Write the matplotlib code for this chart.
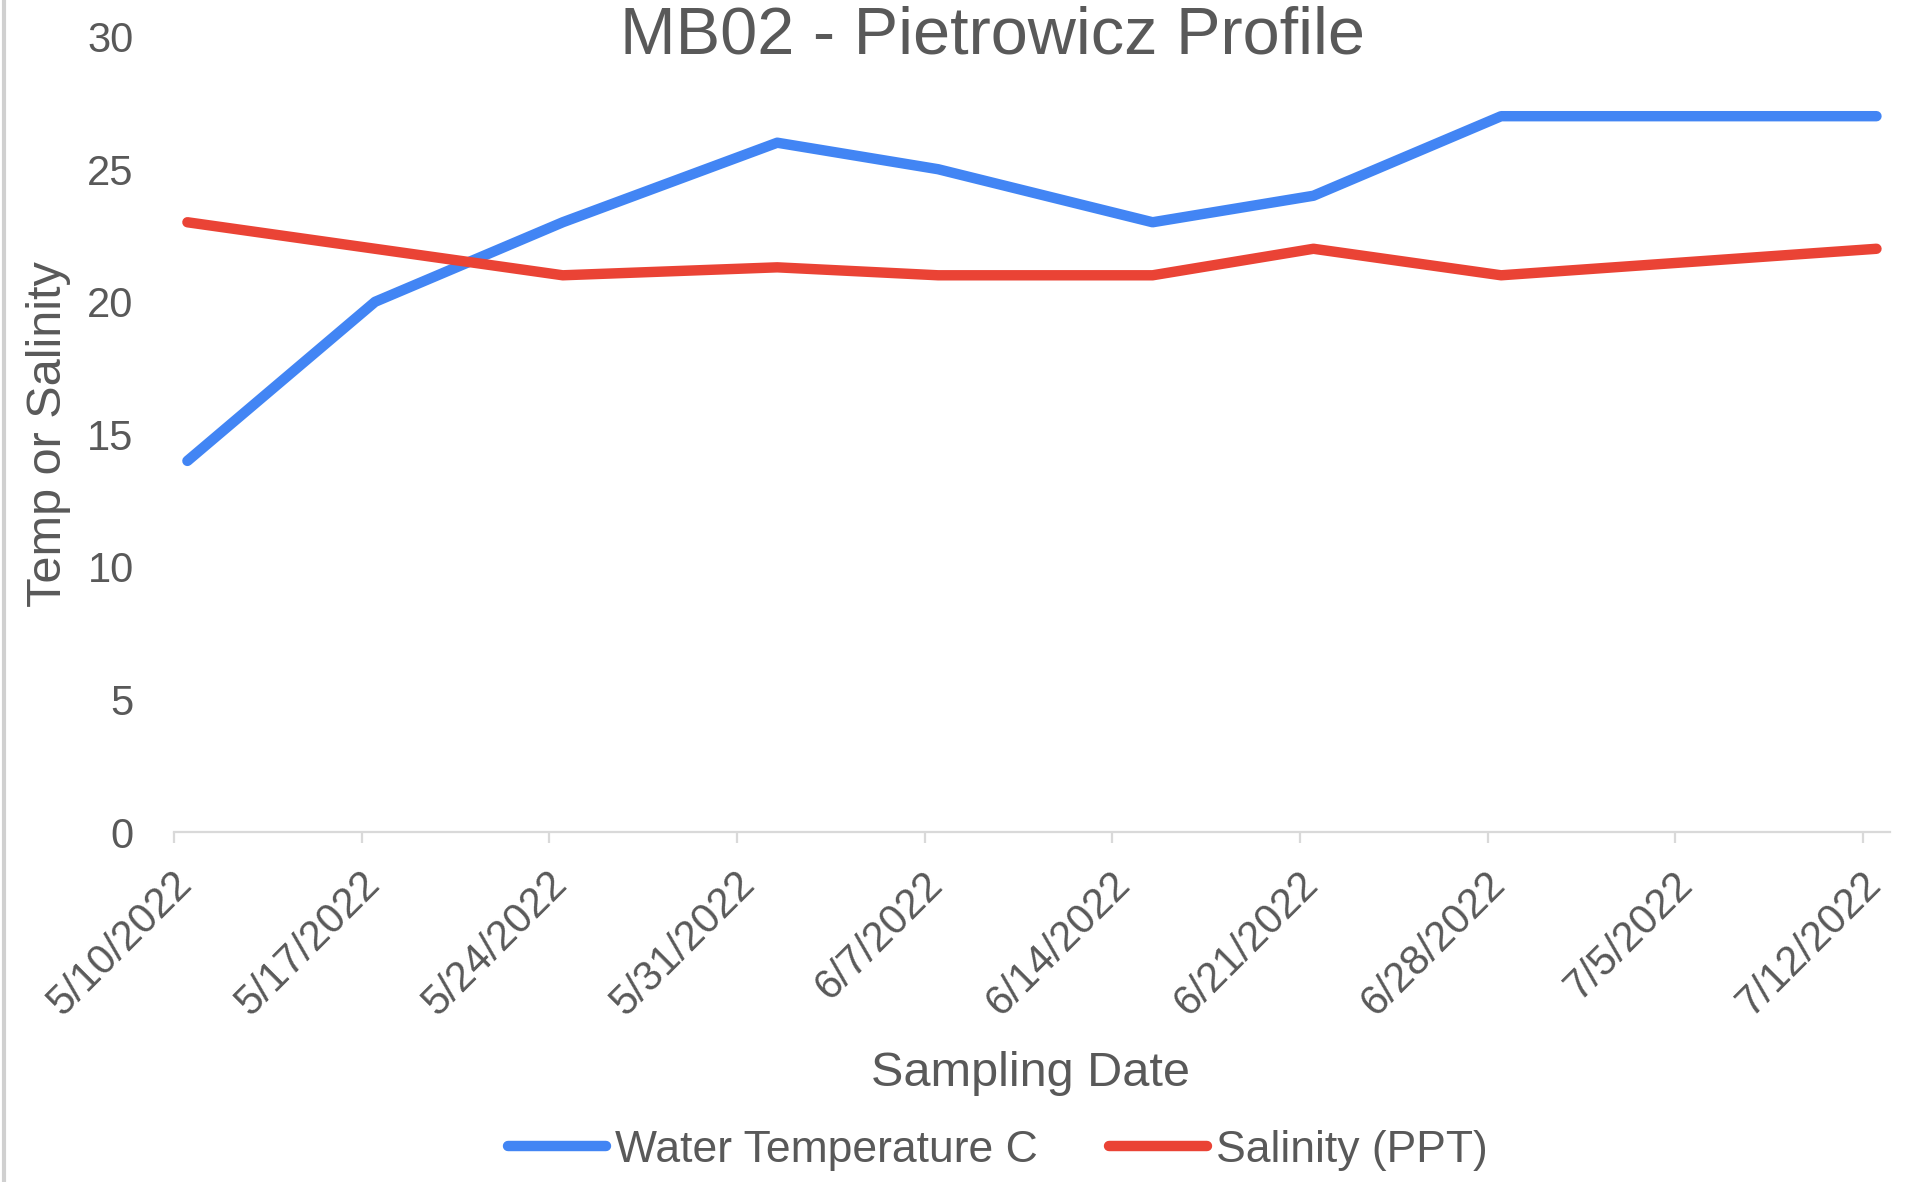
import datetime as dt
import matplotlib
matplotlib.use('Agg')
import matplotlib.pyplot as plt
from matplotlib.transforms import ScaledTranslation
from matplotlib.lines import Line2D

# sampling data
sample_dates = ['2022-05-10', '2022-05-17', '2022-05-24', '2022-06-01', '2022-06-07',
                '2022-06-15', '2022-06-21', '2022-06-28', '2022-07-12']
water_temp = [14, 20, 23, 26, 25, 23, 24, 27, 27]
salinity = [23, 22, 21, 21.3, 21, 21, 22, 21, 22]

tick_dates = ['2022-05-10', '2022-05-17', '2022-05-24', '2022-05-31', '2022-06-07',
              '2022-06-14', '2022-06-21', '2022-06-28', '2022-07-05', '2022-07-12']
tick_labels = ['5/10/2022', '5/17/2022', '5/24/2022', '5/31/2022', '6/7/2022',
               '6/14/2022', '6/21/2022', '6/28/2022', '7/5/2022', '7/12/2022']
y_ticks = [0, 5, 10, 15, 20, 25, 30]

plt.rcParams['font.family'] = ['Liberation Sans', 'DejaVu Sans']
text_col = '#595959'
blue = '#4285F4'
red = '#EA4335'

def to_dt(s):
    return dt.datetime.strptime(s, '%Y-%m-%d')

# spreadsheet date axis puts points in the middle of the day
x = [to_dt(d) + dt.timedelta(hours=12) for d in sample_dates]
ticks = [to_dt(d) for d in tick_dates]

fig = plt.figure(figsize=(19.08, 11.82), dpi=100)
ax = fig.add_axes([0.0912, 0.296, 0.8993, 0.673])

ax.plot(x, water_temp, color=blue, lw=7.5, solid_capstyle='round', solid_joinstyle='round')
ax.plot(x, salinity, color=red, lw=7.5, solid_capstyle='round', solid_joinstyle='round')

ax.set_xlim(to_dt('2022-05-10'), to_dt('2022-07-13'))
ax.set_ylim(0, 30)
ax.set_yticks(y_ticks)
ax.set_xticks(ticks)
ax.set_xticklabels(tick_labels, rotation=45, ha='right', va='center', rotation_mode='anchor')

for s in ['top', 'right', 'left']:
    ax.spines[s].set_visible(False)
ax.spines['bottom'].set_color('#D9D9D9')
ax.spines['bottom'].set_linewidth(1.6)

ax.tick_params(axis='y', length=0, pad=29, labelsize=30, labelcolor=text_col)
ax.tick_params(axis='x', length=8, width=1.6, color='#D9D9D9', pad=25,
               labelsize=30, labelcolor=text_col)
off = ScaledTranslation(0.12, 0, fig.dpi_scale_trans)
for lab in ax.get_xticklabels():
    lab.set_transform(lab.get_transform() + off)

fig.text(0.52, 0.969, 'MB02 - Pietrowicz Profile', ha='center', va='center',
         fontsize=48, color=text_col)
fig.text(0.0255, 0.633, 'Temp or Salinity', rotation=90, ha='center', va='center',
         fontsize=35, color=text_col)
fig.text(0.540, 0.0914, 'Sampling Date', ha='center', va='center',
         fontsize=35, color=text_col)

handles = [Line2D([], [], color=blue, lw=7.5, solid_capstyle='round'),
           Line2D([], [], color=red, lw=7.5, solid_capstyle='round')]
leg = fig.legend(handles, ['Water Temperature C', 'Salinity (PPT)'], ncol=2,
                 loc='center', bbox_to_anchor=(0.523, 0.027), frameon=False,
                 fontsize=32, handlelength=2.2, handletextpad=0.2, columnspacing=1.6)
for t in leg.get_texts():
    t.set_color(text_col)

# thin grey border at the left edge of the screenshot
fig.add_artist(Line2D([0.002, 0.002], [0, 1], color='#D0D0D0', lw=3, transform=fig.transFigure))

fig.savefig('out.png', dpi=100)
